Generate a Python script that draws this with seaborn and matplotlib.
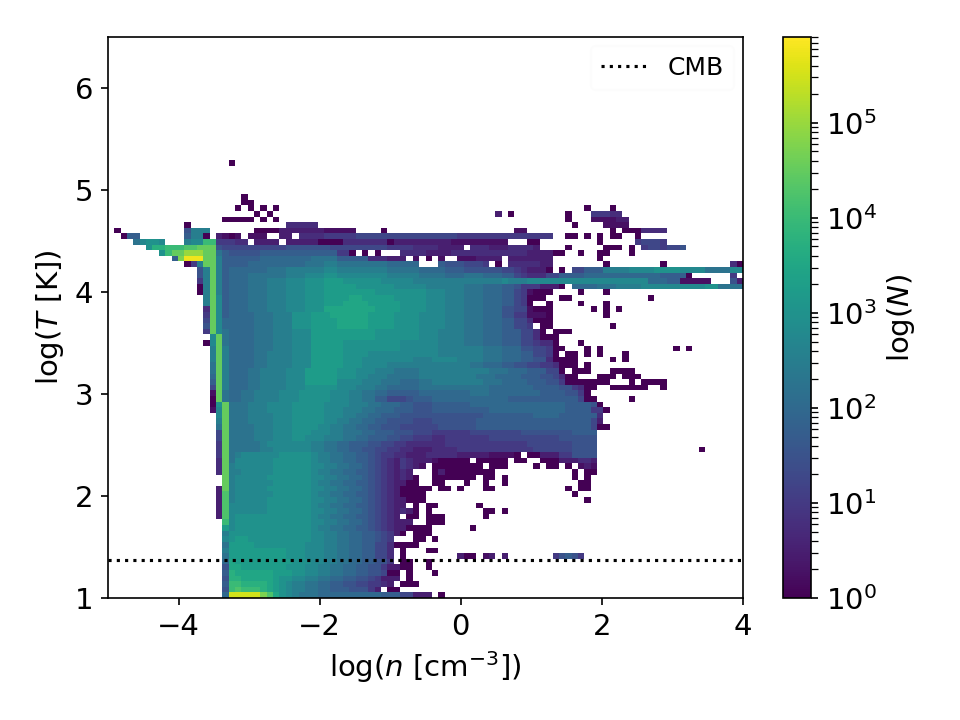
import re

import matplotlib
matplotlib.use("Agg")
import matplotlib.pyplot as plt
import numpy as np
import seaborn as sns
from matplotlib.colors import LogNorm

# Phase-space histogram: 100 x 100 bins over log n and log T.
LOG_N_RANGE = (-5.0, 4.0)
LOG_T_RANGE = (1.0, 6.5)
N_BINS = 100
CMB_LOG_T = 1.372
COUNT_RANGE = (1.0, 8.0e5)
X_TICKS = [-4, -2, 0, 2, 4]
Y_TICKS = [1, 2, 3, 4, 5, 6]

# One entry per temperature bin, coolest first. "@n" moves to density bin n,
# a letter gives log10(count) in quarter-dex steps (a=0, e=1, i=2, m=3, q=4, u=5)
# and "." is an empty bin; an optional number repeats the preceding symbol.
COUNT_ROWS = [
    "@18 i w5 t r o m l k j3 i10 h3 f2 c3 @52 a",
    "@18 g q r q3 p o n m l k2 j2 i2 h3 g3 e c . a2",
    "@18 h q q p3 p o n m l k2 j2 i2 h2 g2 f2 e2 d c . a3",
    "@18 g p2 o5 n m2 l2 k2 j2 i2 h2 g2 f e c3 . a",
    "@18 h p o6 n3 m2 l2 k2 j2 i2 h2 g2 f @44 a2 . a @51 a",
    "@18 g o2 n5 n2 m3 l2 k2 j2 i2 h2 g2 e c2 a2 @50 a",
    "@18 i o n5 n4 m3 l2 k2 j2 i2 h2 g2 e . a2 @50 a",
    "@18 j n2 n7 m3 l3 k2 j2 i2 h2 f2 d . a @55 c a2 @59 b c @62 c @70 e g h g e",
    "@18 k n n8 m3 l3 k2 j2 i2 h2 f2 d . a @50 a2",
    "@18 j n n3 m5 m3 l3 k2 j2 i2 h2 f2 d a4",
    "@18 l m n2 m7 m3 l2 k2 j2 i2 h2 g f e d @45 .3 a2 @51 a",
    "@18 k m2 m8 m3 l2 k2 j2 i2 h2 g f e c a . a3",
    "@18 n l m10 m2 l2 k2 j2 i2 h2 g f e d c a4 @57 a @32 l k2 j2 i2 h2 g f e d c",
    "@18 q l m9 m3 l3 k j2 i2 h2 g f e c3 @48 .2 a3 @32 l2 k2 j2 i2 h g f e d c",
    "@17 c r l m9 m3 l2 k2 j2 i2 h2 g f e d . a2 . a3 @59 a @32 l k2 j2 i2 h2 g f e d c",
    "@17 c r l2 l4 m7 l3 k j3 i2 h g2 f e d c a . a @59 a2 @62 a @32 l2 k2 j2 i2 h g f e d c",
    "@17 c r l l5 m7 l2 k2 j2 i2 h2 g f e d c . a . a2 @58 a @32 l k2 j2 i2 h2 g f e d c",
    "@17 c r k l5 m8 k3 k j2 i2 h g f e d c a3 @75 a @32 l2 k2 j2 i2 h g f e d c",
    "@17 c r k l6 m6 l3 k3 j i2 h g f e c a4 @73 a @32 l k2 j2 i2 h2 g f e d c",
    "@17 c s k l5 m7 l2 k3 j2 i2 h2 f e b a5 @52 a2 @55 a @59 a2 @72 a @74 a2 @32 l2 k2 j2 i2 h g f e d c",
    "@18 s k l6 m6 l3 k3 j2 i2 h2 f e c a2 @51 a2 @56 a @59 a @62 a @74 a2 @32 l k2 j2 i2 h2 g f e d c",
    "@18 s k l5 m7 l3 k2 j3 i2 h2 g e d c a @49 .2 a7 . a2 . a @73 a . a @32 l2 k2 j2 i2 h g f e d c",
    "@17 d s k k l5 m6 l3 k2 j2 i2 h3 g e d c @48 .3 a c a8 @73 a . a2 @32 l k2 j2 i2 h2 g f e d c",
    "@17 d s k l6 m6 l2 k3 j2 i2 h3 g f e d c b . a8 . a3 @67 a @69 a2 @72 a @74 b c b @32 l2 k2 j2 i2 h g f e d c",
    "@17 d s j l6 m6 l3 k3 j2 i2 h2 g f e d c3 b a5 . a5 . a2 .2 a3 c3 d2 c @32 l k2 j2 i2 h2 g f e d c",
    "@17 e s j k l6 m5 l3 k3 j3 i2 h2 g2 f2 e3 d3 c5 b4 a . a2 c3 e2 g4 @32 l k2 j2 i2 h2 g f e2 d2 c3 d3",
    "@17 e s j5 k2 l6 k2 j2 i2 h2 g2 f2 e2 d2 c3 d4 e5 e5 e2 f3 f3 g4 @93 a",
    "@17 e s j5 k l7 k2 j2 i2 h3 g2 f2 e2 d3 d3 e4 e5 e4 f4 f3 g3 g",
    "@17 f s j4 k3 l3 m2 l3 k3 j2 i2 h3 g2 f2 e3 d2 e3 e4 f4 f4 f3 g4 g2",
    "@17 f s j4 k3 l3 m3 l3 k2 j3 i2 h3 g3 f3 e3 e3 f4 f4 g4 g4 h4",
    "@17 j s j4 k3 l3 m4 l2 k2 j2 i2 h2 g3 f3 f3 g3 g3 h4 h4 h4 h4 h2 f a2",
    "@17 k s j3 k4 l3 m5 l2 k2 j2 i2 h2 g4 f3 g3 g4 h3 h4 h4 h4 h3 f c",
    "@17 l s j3 k4 l3 m5 l3 k2 j2 i2 h3 g3 g3 g3 g4 h4 h4 i4 h4 h2 d",
    "@16 b l s j3 k3 l4 m5 l3 k3 j2 i3 h3 g3 h3 h3 h3 i4 i4 i4 h4 e2 a",
    "@16 a m s j3 k3 l4 m5 l4 k3 j2 i3 h2 g3 h3 h3 i3 i4 i4 i4 h4 g a",
    "@16 a s j i2 j2 k4 l3 m5 l3 k2 j2 h2 f3 g h3 i5 i3 i4 h4 h4 h3 f a2 @82 a",
    "@16 b s j i2 j2 k4 l3 m5 l3 k2 j2 i2 h3 h2 i3 i5 j3 i4 i4 h4 g2 e a",
    "@16 f s k i3 j2 k4 l3 m5 l3 k3 j2 i3 i2 j3 j5 j3 i4 i3 h4 g2 e d a2 @79 a3 @82 a3 @87 a",
    "@16 h s k i3 j2 k4 l3 n5 l4 k3 j3 i3 j2 k3 k5 j3 i4 h3 g2 e a4 a3 @82 a @84 a4",
    "@16 i s k i3 j2 k4 l3 n5 m3 l2 k3 j2 j3 k3 k4 k2 j3 i4 h3 g2 f d a2 @77 a3 @81 a2 @83 a",
    "@16 j s k i3 j2 k4 l3 n5 m3 l3 k3 j4 k4 k4 k3 j3 i3 h3 f2 a . a3 @79 a4",
    "@16 j s k i4 j2 k4 l3 n5 m3 l4 k3 k3 k4 k3 j2 i3 h2 g2 f2 e2 d a3 . a",
    "@16 k s k i4 j2 k4 l3 n5 m3 l5 l3 k3 l4 k4 j3 i3 h2 g2 d a4 @79 a @81 a",
    "@16 k s k i4 j2 k4 l3 n5 m4 l5 l3 l3 k4 k3 j3 i3 h2 f2 e a . a2 @75 a @77 a @81 a",
    "@16 k s k i4 j3 k3 l3 n5 m4 m5 l3 l3 k4 k3 j3 i3 g2 f2 e a2 @75 a @77 a @89 a @91 a",
    "@15 a l s j i4 j3 k3 l3 n5 m5 m4 l3 l3 k4 j3 i3 h3 f2 e d2 a @74 a",
    "@16 l s j i4 j3 k3 l3 n5 n5 m4 m3 l3 k4 j3 i3 h3 f2 d a3",
    "@15 e s l j i4 j3 k3 l3 n5 n5 m4 m3 l3 k4 j3 i3 h3 f2 d a . a3",
    "@15 g s l i i4 j3 k3 m3 n4 o5 n4 m4 l4 k3 j3 i3 h2 f2 e . a2 @79 a",
    "@15 f s l i i4 j3 k3 m3 n4 o5 n4 m4 l4 k3 j3 i3 h2 f2 d a3",
    "@15 e s l h i4 j3 k3 m3 n3 o6 n4 m4 l4 k3 j3 i3 g2 e2 b3 a @78 a",
    "@15 d s l h i3 j3 k3 l3 m3 o6 o2 n4 m4 l3 k3 j3 i3 g2 f2 b a3 @76 a @78 a @80 a",
    "@15 k s l h i3 j3 k3 l3 m3 n3 o4 n5 m4 l3 k3 j3 i3 h2 f e a .2 a @74 a @78 a",
    "@15 k s l h i3 j3 k3 l3 m3 n4 o2 n5 m5 l3 k3 j3 i3 h2 f e a3 @71 a2 @85 a",
    "@14 a k s k h i3 j3 k3 l3 m3 n8 m5 m3 l3 k3 j3 i3 h2 f e b a3 @74 a @78 a",
    "@14 a k s k h i3 j3 k3 l3 m3 n5 m6 l5 k4 k2 j3 i3 h2 g e3 c3 a . @73 i4 j3 k4 l5 l5 m2 j4",
    "@14 e k s k h i3 j3 k3 l3 m3 n3 m6 l5 k4 k2 k3 k3 k2 l k3 l4 l4 l3 l3 l3 l3 @85 i3 h2 b5 @98 g c",
    "@14 g k s k h i3 j3 j3 k3 l3 m2 l8 k5 j4 i3 j3 i3 h2 f e d3 f2 h4 i4 i4 i4 h4 a @98 e",
    "@14 g k s k h i3 i3 j3 k3 k3 l2 k8 j5 i4 h3 g3 g3 f2 e d c3 a @71 a @73 f2 h3 k4 l4 m4 l4 j4 l2",
    "@12 a e k s s k h h3 i3 i3 i3 j3 k2 j8 i5 h4 g3 f3 e3 d3 d3 c2 @49 .3 @60 . a . @78 a @87 a @98 d a",
    "@10 h t x3 s s k h h5 i5 i3 j4 h5 d3 c4 b4 b3 b3 c3 c3 c3 c3 @47 . @49 . a . @53 .2 @62 . @77 a",
    "@8 m q s2 u3 s s j h g5 h5 h3 h4 e2 a . a . a .3 d4 c4 d4 d4 d4 c4 a2 @74 a @77 a2 @82 a",
    "@6 m p2 q3 r2 s3 g f5 f5 g3 g4 f5 f4 e4 d4 c4 . d3 c3 d4 c @72 a @78 a3 @82 a @84 e f2 e f2 g",
    "@4 j l m2 l @12 k l2 q2 e e2 d2 . c4 . c5 a4 d7 a c9 b9 @63 .3 a2 @77 a @83 e f3 e",
    "@2 a h2 @12 h k2 a @17 c b a b . b3 .2 c2 . d4 e5 f8 f8 e8 e7 @72 a2 @75 a @77 a @79 a2 @83 a",
    "@1 a @12 g k3 @23 a4 c7 b5 @43 a @64 b2 @79 a . a3 d4",
    "@12 a @28 d5 @73 a @78 b4",
    "@18 a5 @24 a @26 a @72 a @76 b4 c2",
    "@23 a @25 a @61 c @63 a @72 a @76 e3 d2",
    "@20 a @22 a @24 a @26 a @75 a @79 a",
    "@21 a2",
    "@21 a",
    "",
    "",
    "",
    "",
    "",
    "@19 a",
]


def expand_rows(rows):
    """Turn the run-length rows into bin centres and histogram weights."""
    dx = (LOG_N_RANGE[1] - LOG_N_RANGE[0]) / N_BINS
    dy = (LOG_T_RANGE[1] - LOG_T_RANGE[0]) / N_BINS
    grid = {}
    for row, text in enumerate(rows):
        col = 0
        for token in text.split():
            if token[0] == "@":
                col = int(token[1:])
                continue
            symbol, repeat = re.fullmatch(r"([a-z.])(\d*)", token).groups()
            for _ in range(int(repeat or 1)):
                if symbol == ".":
                    grid.pop((row, col), None)
                else:
                    grid[(row, col)] = 10 ** ((ord(symbol) - ord("a")) * 0.25)
                col += 1
    keys = sorted(grid)
    x = [LOG_N_RANGE[0] + (c + 0.5) * dx for _, c in keys]
    y = [LOG_T_RANGE[0] + (r + 0.5) * dy for r, _ in keys]
    w = [grid[k] for k in keys]
    return np.array(x), np.array(y), np.array(w)


log_n, log_t, counts = expand_rows(COUNT_ROWS)

fig = plt.figure(figsize=(6.4, 4.8), dpi=150)
ax = fig.add_axes([108 / 960, 122 / 720, 635 / 960, 561 / 720])
cax = fig.add_axes([783 / 960, 122 / 720, 28 / 960, 561 / 720])

sns.histplot(
    x=log_n,
    y=log_t,
    weights=counts,
    bins=N_BINS,
    binrange=(LOG_N_RANGE, LOG_T_RANGE),
    cmap="viridis",
    norm=LogNorm(*COUNT_RANGE),
    vmin=None,
    vmax=None,
    cbar=True,
    cbar_ax=cax,
    ax=ax,
)

ax.axhline(CMB_LOG_T, color="black", linestyle=":", linewidth=1.5, label="CMB")
ax.set_xlim(*LOG_N_RANGE)
ax.set_ylim(*LOG_T_RANGE)
ax.set_xticks(X_TICKS)
ax.set_yticks(Y_TICKS)
ax.tick_params(labelsize=14)
ax.set_xlabel(r"log($n$ [cm$^{-3}$])", fontsize=14)
ax.set_ylabel(r"log($T$ [K])", fontsize=14)
ax.legend(
    loc="upper right",
    fontsize=12,
    edgecolor="#fcfcfc",
    handlelength=1.9,
    bbox_to_anchor=(1.0, 1.0),
    borderaxespad=0.35,
)

cax.tick_params(which="both", labelsize=14, length=3.5)
cax.set_ylabel(r"log($N$)", fontsize=14)

fig.savefig("out.png", dpi=150)
